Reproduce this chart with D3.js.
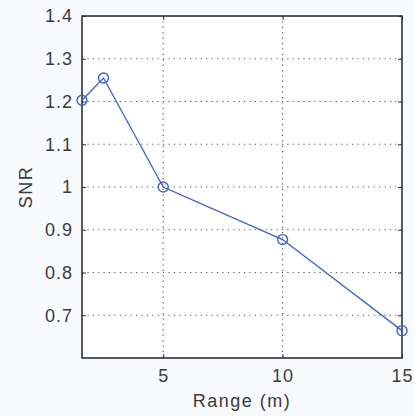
<!DOCTYPE html>
<html lang="en">
<head>
  <meta charset="UTF-8">
  <title>SNR vs Range</title>
  <script src="https://d3js.org/d3.v7.min.js"></script>
  <style>
    body { margin: 0; background: #f9fafd; }
    text { font-family: Arial, "Liberation Sans", sans-serif; fill: #3a3a3a; }
    .grid line { stroke: #555; stroke-dasharray: 1.2 4.2; stroke-width: 1.2; }
  </style>
</head>
<body>
  <script>
    // measured data
    var range = [1.6, 2.5, 5, 10, 15]
    var snr = [1.203, 1.255, 1.0, 0.877, 0.664]
    var xTicks = [5, 10, 15]
    var yTicks = [0.7, 0.8, 0.9, 1, 1.1, 1.2, 1.3, 1.4]

    var w = 415, h = 416
    var margin = { top: 16, right: 13, bottom: 58, left: 82 }
    var width = w - margin.left - margin.right
    var height = h - margin.top - margin.bottom

    var x = d3.scaleLinear().domain([1.6, 15]).range([0, width])
    var y = d3.scaleLinear().domain([0.6, 1.4]).range([height, 0])

    var svg = d3.select("body").append("svg")
      .attr("width", w)
      .attr("height", h)
      .append("g")
      .attr("transform", "translate(" + margin.left + "," + margin.top + ")")

    svg.append("rect")
      .attr("width", width).attr("height", height)
      .attr("fill", "#ffffff")

    // dotted grid
    var grid = svg.append("g").attr("class", "grid")
    grid.selectAll(".gy").data(yTicks.filter(function (d) { return d < 1.4 }))
      .enter().append("line")
      .attr("x1", 0).attr("x2", width)
      .attr("y1", function (d) { return y(d) }).attr("y2", function (d) { return y(d) })
    grid.selectAll(".gx").data(xTicks.filter(function (d) { return d < 15 }))
      .enter().append("line")
      .attr("y1", 0).attr("y2", height)
      .attr("x1", function (d) { return x(d) }).attr("x2", function (d) { return x(d) })

    // axes with inward ticks
    function styleAxis(g) {
      g.select(".domain").remove()
      g.selectAll(".tick line").attr("stroke", "#333")
      g.selectAll(".tick text").attr("font-size", "18px").attr("letter-spacing", "1px").attr("fill", "#3a3a3a")
    }
    svg.append("g")
      .attr("transform", "translate(0," + height + ")")
      .call(d3.axisBottom(x).tickValues(xTicks).tickSize(-4).tickPadding(11).tickFormat(d3.format("d")))
      .call(styleAxis)
    svg.append("g")
      .call(d3.axisTop(x).tickValues(xTicks).tickSize(-4).tickFormat(""))
      .call(styleAxis)
    svg.append("g")
      .call(d3.axisLeft(y).tickValues(yTicks).tickSize(-4).tickPadding(9).tickFormat(function (d) { return d3.format("")(d) }))
      .call(styleAxis)
    svg.append("g")
      .attr("transform", "translate(" + width + ",0)")
      .call(d3.axisRight(y).tickValues(yTicks).tickSize(-4).tickFormat(""))
      .call(styleAxis)

    svg.append("rect")
      .attr("width", width).attr("height", height)
      .attr("fill", "none").attr("stroke", "#2e3236").attr("stroke-width", 1.6)

    // series
    var pts = range.map(function (d, i) { return [d, snr[i]] })
    svg.append("path")
      .datum(pts)
      .attr("fill", "none")
      .attr("stroke", "#3b62c8")
      .attr("stroke-width", 1.3)
      .attr("d", d3.line().x(function (d) { return x(d[0]) }).y(function (d) { return y(d[1]) }))
    svg.selectAll(".pt").data(pts)
      .enter().append("circle")
      .attr("cx", function (d) { return x(d[0]) })
      .attr("cy", function (d) { return y(d[1]) })
      .attr("r", 5)
      .attr("fill", "none")
      .attr("stroke", "#3b62c8")
      .attr("stroke-width", 1.4)

    // labels
    svg.append("text")
      .attr("x", width / 2).attr("y", height + 49)
      .attr("text-anchor", "middle")
      .attr("font-size", "18px")
      .attr("letter-spacing", "1.5px")
      .text("Range (m)")
    svg.append("text")
      .attr("transform", "translate(" + (-50) + "," + (height / 2) + ") rotate(-90)")
      .attr("text-anchor", "middle")
      .attr("font-size", "18px")
      .attr("letter-spacing", "1.5px")
      .text("SNR")
  </script>
</body>
</html>
